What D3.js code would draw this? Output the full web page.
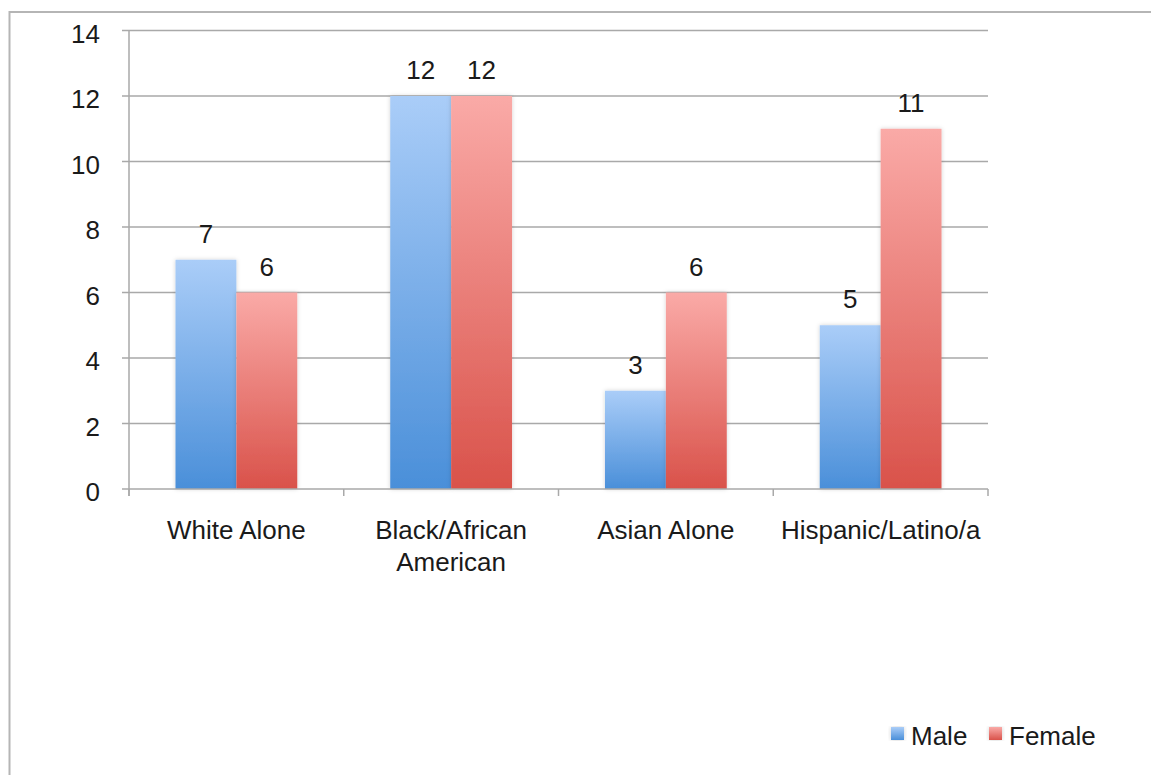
<!DOCTYPE html>
<html>
<head>
<meta charset="utf-8">
<script src="https://cdn.jsdelivr.net/npm/d3@7"></script>
<style>
  html, body { margin: 0; padding: 0; background: #fff; }
  svg { display: block; font-family: "Liberation Sans", Arial, sans-serif; }
</style>
</head>
<body>
<svg id="chart" width="1151" height="775"></svg>
<script>
// Chart data
const categories = ["White Alone", "Black/African American", "Asian Alone", "Hispanic/Latino/a"];
const categoryLines = [["White Alone"], ["Black/African", "American"], ["Asian Alone"], ["Hispanic/Latino/a"]];
const seriesNames = ["Male", "Female"];
const maleValues = [7, 12, 3, 5];
const femaleValues = [6, 12, 6, 11];
const yTicks = [0, 2, 4, 6, 8, 10, 12, 14];

const svg = d3.select("#chart");
const W = 1151, H = 775;

// Plot geometry
const plot = { left: 129, right: 988, top: 30.5, bottom: 489 };
const fontSize = 26;

const colors = {
  Male: { top: "#aacdf8", bottom: "#4a8fd9" },
  Female: { top: "#faaaa7", bottom: "#d9524a" }
};

const defs = svg.append("defs");
seriesNames.forEach(s => {
  const g = defs.append("linearGradient")
    .attr("id", "grad-" + s)
    .attr("x1", 0).attr("y1", 0).attr("x2", 0).attr("y2", 1);
  g.append("stop").attr("offset", "0%").attr("stop-color", colors[s].top);
  g.append("stop").attr("offset", "100%").attr("stop-color", colors[s].bottom);
});
const shadow = defs.append("filter").attr("id", "barShadow")
  .attr("x", "-20%").attr("y", "-5%").attr("width", "140%").attr("height", "110%");
shadow.append("feDropShadow")
  .attr("dx", 0).attr("dy", 0).attr("stdDeviation", 2)
  .attr("flood-color", "#000").attr("flood-opacity", 0.18);

// Outer frame
svg.append("rect")
  .attr("x", 9.5).attr("y", 12)
  .attr("width", W + 20).attr("height", H + 20)
  .attr("fill", "none").attr("stroke", "#b5b5b5").attr("stroke-width", 2);

// Scales
const y = d3.scaleLinear().domain([0, 14]).range([plot.bottom, plot.top]);
const x0 = d3.scaleBand().domain(categories).range([plot.left, plot.right]).padding(0);
const bw = x0.bandwidth();
const x1 = d3.scaleBand().domain(seriesNames).range([bw * 0.2165, bw * (1 - 0.2165)]).padding(0);

// Gridlines
svg.append("g").selectAll("line").data(yTicks.filter(t => t > 0)).join("line")
  .attr("x1", plot.left - 7).attr("x2", plot.right)
  .attr("y1", d => y(d)).attr("y2", d => y(d))
  .attr("stroke", "#a9a9a9").attr("stroke-width", 1.5);

// Y axis labels
const yAxis = svg.append("g")
  .attr("transform", `translate(${plot.left - 7},0)`)
  .call(d3.axisLeft(y).tickValues(yTicks).tickSize(0).tickPadding(22).tickFormat(d3.format("d")));
yAxis.select(".domain").remove();
yAxis.selectAll("text")
  .attr("font-size", fontSize).attr("font-family", "'Liberation Sans', Arial, sans-serif")
  .attr("fill", "#1a1a1a").attr("dy", "0.45em");

// Bars
const data = categories.map((c, i) => ({ cat: c, Male: maleValues[i], Female: femaleValues[i] }));
const groups = svg.append("g").selectAll("g").data(data).join("g")
  .attr("transform", d => `translate(${x0(d.cat)},0)`);

const barData = d => seriesNames.map(s => ({ s, v: d[s] }));
groups.selectAll("rect").data(barData).join("rect")
  .attr("x", d => x1(d.s)).attr("width", x1.bandwidth())
  .attr("y", d => y(d.v)).attr("height", d => y(0) - y(d.v))
  .attr("fill", d => `url(#grad-${d.s})`)
  .attr("filter", "url(#barShadow)");

groups.selectAll("text.val").data(barData).join("text")
  .attr("class", "val")
  .attr("x", d => x1(d.s) + x1.bandwidth() / 2)
  .attr("y", d => y(d.v) - 17)
  .attr("text-anchor", "middle")
  .attr("font-size", fontSize).attr("fill", "#1a1a1a")
  .text(d => d.v);

// Y axis line
svg.append("line")
  .attr("x1", plot.left).attr("x2", plot.left)
  .attr("y1", plot.top).attr("y2", plot.bottom + 7)
  .attr("stroke", "#a9a9a9").attr("stroke-width", 1.5);

// X axis line with boundary ticks
svg.append("line")
  .attr("x1", plot.left - 7).attr("x2", plot.right)
  .attr("y1", plot.bottom).attr("y2", plot.bottom)
  .attr("stroke", "#a9a9a9").attr("stroke-width", 1.5);
const boundaries = categories.map(c => x0(c)).concat([x0(categories[categories.length - 1]) + bw]);
svg.append("g").selectAll("line").data(boundaries).join("line")
  .attr("x1", d => d).attr("x2", d => d)
  .attr("y1", plot.bottom).attr("y2", plot.bottom + 7)
  .attr("stroke", "#a9a9a9").attr("stroke-width", 1.5);

// Category labels
const catLabels = svg.append("g").selectAll("text").data(categories).join("text")
  .attr("x", d => x0(d) + bw / 2)
  .attr("y", 539)
  .attr("text-anchor", "middle")
  .attr("font-size", fontSize).attr("fill", "#1a1a1a");
catLabels.each(function(d, i) {
  d3.select(this).selectAll("tspan").data(categoryLines[i]).join("tspan")
    .attr("x", x0(d) + bw / 2)
    .attr("dy", (l, j) => j === 0 ? 0 : 32)
    .text(l => l);
});

// Legend
const legendItems = [
  { s: "Male", sx: 891, tx: 911 },
  { s: "Female", sx: 989, tx: 1009 }
];
const legend = svg.append("g");
legend.selectAll("rect").data(legendItems).join("rect")
  .attr("x", d => d.sx).attr("y", 727).attr("width", 13).attr("height", 13)
  .attr("fill", d => `url(#grad-${d.s})`)
  .attr("filter", "url(#barShadow)");
legend.selectAll("text").data(legendItems).join("text")
  .attr("x", d => d.tx).attr("y", 745)
  .attr("font-size", fontSize).attr("fill", "#1a1a1a")
  .text(d => d.s);
</script>
</body>
</html>
